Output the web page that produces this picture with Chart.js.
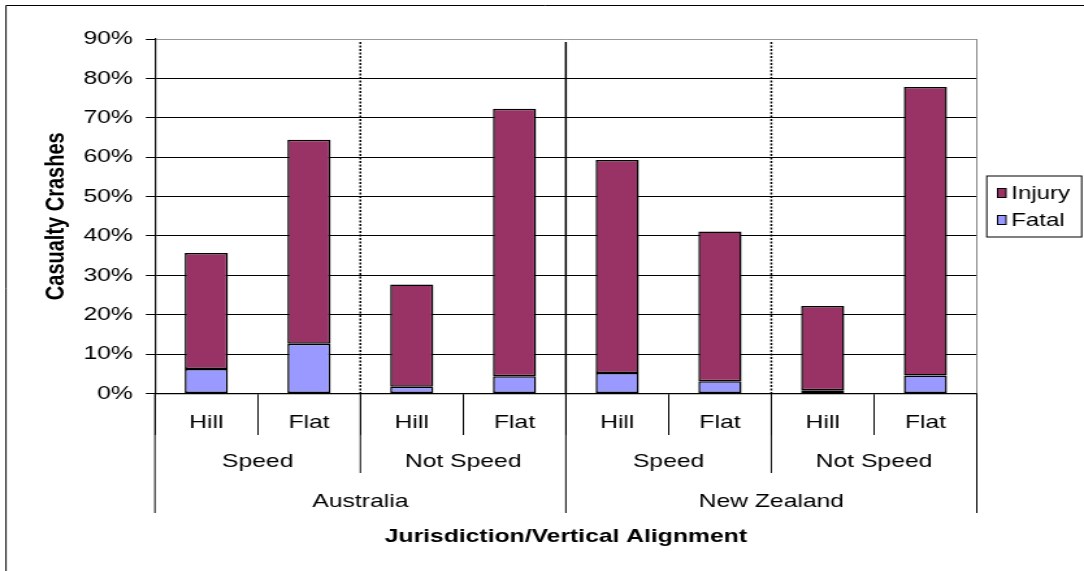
<!DOCTYPE html>
<html><head><meta charset="utf-8">
<script src="https://cdn.jsdelivr.net/npm/chart.js@4.4.0/dist/chart.umd.min.js"></script>
<style>html,body{margin:0;padding:0;background:#fff;overflow:hidden}canvas{display:block}</style>
</head><body>
<canvas id="c" width="834" height="571" style="width:1084px;height:571px"></canvas>
<script>
// ---- data ----
const categories = ['Hill', 'Flat', 'Hill', 'Flat', 'Hill', 'Flat', 'Hill', 'Flat'];
const speedGroups = ['Speed', 'Not Speed', 'Speed', 'Not Speed'];
const jurisdictions = ['Australia', 'New Zealand'];
const fatal = [6.2, 12.6, 1.7, 4.4, 5.2, 3.1, 0.8, 4.6];
const injury = [29.5, 51.8, 26.0, 67.9, 54.1, 38.0, 21.4, 73.2];
const yMin = 0, yMax = 90, yStep = 10;

const FONT = '"Liberation Sans", Arial, sans-serif';
Chart.defaults.font.family = FONT;
Chart.defaults.color = '#000';

const groupPlugin = {
  id: 'groupPlugin',
  beforeDraw(chart) {
    const ctx = chart.ctx;
    ctx.save();
    ctx.fillStyle = '#fff';
    ctx.fillRect(0, 0, chart.width, chart.height);
    ctx.strokeStyle = '#000';
    ctx.lineWidth = 1;
    ctx.beginPath();
    ctx.moveTo(4.6, chart.height);
    ctx.lineTo(4.6, 5.5);
    ctx.lineTo(chart.width, 5.5);
    ctx.stroke();
    ctx.restore();
  },
  afterDraw(chart) {
    const ctx = chart.ctx;
    const xs = chart.scales.x;
    const area = chart.chartArea;
    const n = categories.length;
    const perSpeed = n / speedGroups.length;
    const perJur = n / jurisdictions.length;
    const bnd = i => i === 0 ? area.left : (i === n ? area.right : (xs.getPixelForValue(i - 1) + xs.getPixelForValue(i)) / 2);
    ctx.save();
    // right plot border
    ctx.strokeStyle = '#888';
    ctx.lineWidth = 1;
    ctx.beginPath();
    ctx.moveTo(area.right, area.top);
    ctx.lineTo(area.right, area.bottom);
    ctx.stroke();
    // separators inside plot
    for (let i = 1; i < n; i++) {
      if (i % perJur === 0) {
        ctx.setLineDash([]);
        ctx.lineWidth = 1.5;
      } else if (i % perSpeed === 0) {
        ctx.setLineDash([2, 1.5]);
        ctx.lineWidth = 1.5;
      } else continue;
      ctx.strokeStyle = '#000';
      ctx.beginPath();
      ctx.moveTo(bnd(i), area.top + 3);
      ctx.lineTo(bnd(i), area.bottom);
      ctx.stroke();
    }
    ctx.setLineDash([]);
    // longer tick lines below axis
    ctx.lineWidth = 1;
    ctx.strokeStyle = '#000';
    for (let i = 0; i <= n; i++) {
      let end = null;
      if (i % perJur === 0) end = 513;
      else if (i % perSpeed === 0) end = 473;
      if (end === null) continue;
      ctx.beginPath();
      ctx.moveTo(bnd(i), area.bottom);
      ctx.lineTo(bnd(i), end);
      ctx.stroke();
    }
    // group labels
    ctx.fillStyle = '#000';
    ctx.font = '19px ' + FONT;
    ctx.textAlign = 'center';
    ctx.textBaseline = 'middle';
    speedGroups.forEach((g, k) => {
      ctx.fillText(g, (bnd(k * perSpeed) + bnd((k + 1) * perSpeed)) / 2, 462);
    });
    jurisdictions.forEach((g, k) => {
      ctx.fillText(g, (bnd(k * perJur) + bnd((k + 1) * perJur)) / 2, 501.5);
    });
    // legend (boxed)
    const lx = 759.2, ly = 176, lw = 73, lh = 61;
    ctx.strokeStyle = '#000';
    ctx.lineWidth = 1;
    ctx.strokeRect(lx, ly, lw, lh);
    const items = chart.data.datasets.slice().reverse();
    ctx.font = '18.5px ' + FONT;
    ctx.textAlign = 'left';
    items.forEach((ds, k) => {
      const cy = 193 + k * 27;
      ctx.fillStyle = ds.backgroundColor;
      ctx.fillRect(767.5, cy - 4.5, 6.5, 9);
      ctx.strokeStyle = '#000';
      ctx.strokeRect(767.5, cy - 4.5, 6.5, 9);
      ctx.fillStyle = '#000';
      ctx.fillText(ds.label, 778, cy + 1);
    });
    ctx.restore();
  }
};

new Chart(document.getElementById('c'), {
  type: 'bar',
  data: {
    labels: categories,
    datasets: [
      { label: 'Fatal', data: fatal, backgroundColor: '#9999FF', borderColor: '#000', borderWidth: 1.5, borderSkipped: false },
      { label: 'Injury', data: injury, backgroundColor: '#993366', borderColor: '#000', borderWidth: 1.5, borderSkipped: false }
    ]
  },
  options: {
    responsive: false,
    animation: false,
    devicePixelRatio: 1,
    layout: { padding: { top: 39, right: 82.5, bottom: 0, left: 0 } },
    datasets: { bar: { categoryPercentage: 1, barPercentage: 0.42 } },
    plugins: { legend: { display: false }, tooltip: { enabled: false } },
    scales: {
      x: {
        stacked: true,
        border: { display: true, color: '#000', width: 1.2 },
        grid: { display: true, drawOnChartArea: false, drawTicks: true, tickLength: 41.5, color: '#000', offset: true },
        ticks: { font: { size: 19 }, color: '#000', padding: -23.4, maxRotation: 0, autoSkip: false },
        title: { display: true, text: 'Jurisdiction/Vertical Alignment', font: { size: 19, weight: 'bold' }, color: '#000', padding: { top: 0, bottom: 22.6 } },
        afterFit(s) { s.height = 177.5; }
      },
      y: {
        stacked: true,
        min: yMin, max: yMax,
        border: { display: true, color: '#000', width: 1.2 },
        grid: { color: c => (c.tick && c.tick.value === yMax) ? '#999' : '#000', tickColor: '#000', tickLength: 7, lineWidth: 1 },
        ticks: { stepSize: yStep, font: { size: 19 }, color: '#000', padding: 10, callback: v => v + '%' },
        title: { display: true, text: 'Casualty Crashes', font: { size: 20, weight: 'bold' }, color: '#000', padding: { top: 31.8, bottom: 0 } },
        afterFit(s) { s.width = 119.2; }
      }
    }
  },
  plugins: [groupPlugin]
});
</script>
</body></html>
